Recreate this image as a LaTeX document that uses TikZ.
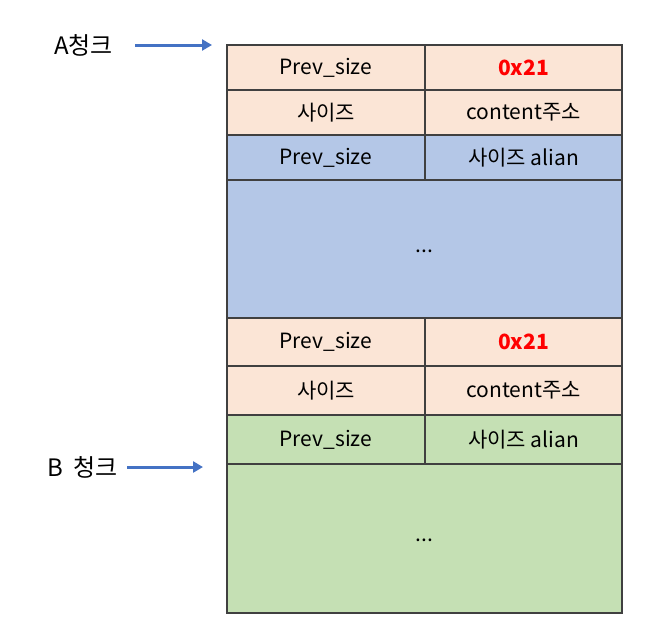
\documentclass[tikz,border=0pt]{standalone}
\usepackage{fontspec}
\setmainfont{Noto Sans CJK KR}
\usetikzlibrary{arrows.meta}
\definecolor{peach}{HTML}{FBE5D6}
\definecolor{blu}{HTML}{B4C7E7}
\definecolor{grn}{HTML}{C5E0B4}
\definecolor{bord}{HTML}{404040}
\definecolor{arrblue}{HTML}{4472C4}
\begin{document}
\begin{tikzpicture}[x=1pt,y=-1pt,
  cell/.style={draw=bord,line width=1.2pt,inner sep=0pt,outer sep=0pt,font=\fontsize{21}{24}\selectfont},
  lbl/.style={font=\fontsize{24}{27}\selectfont,inner sep=0pt},
  ptr/.style={-{Triangle[length=10pt,width=11pt]},draw=arrblue,line width=3pt}]
\useasboundingbox (0,0) rectangle (652,640);
% rows: 45,90,135,180,318,366,415,464,613 ; columns 227,425,622
\def\cellat#1#2#3#4#5#6{\node[cell,fill=#5,minimum width=#3,minimum height=#4,anchor=north west] (#1) at #2 {#6};}
\cellat{a1}{(227,45)}{198pt}{45pt}{peach}{Prev\_size}
\cellat{a2}{(425,45)}{197pt}{45pt}{peach}{\textcolor{red}{\bfseries 0x21}}
\cellat{a3}{(227,90)}{198pt}{45pt}{peach}{사이즈}
\cellat{a4}{(425,90)}{197pt}{45pt}{peach}{content주소}
\cellat{a5}{(227,135)}{198pt}{45pt}{blu}{Prev\_size}
\cellat{a6}{(425,135)}{197pt}{45pt}{blu}{사이즈 alian}
\cellat{a7}{(227,180)}{395pt}{138pt}{blu}{\smash{\raisebox{-3pt}{...}}}
\cellat{b1}{(227,318)}{198pt}{48pt}{peach}{Prev\_size}
\cellat{b2}{(425,318)}{197pt}{48pt}{peach}{\textcolor{red}{\bfseries 0x21}}
\cellat{b3}{(227,366)}{198pt}{49pt}{peach}{사이즈}
\cellat{b4}{(425,366)}{197pt}{49pt}{peach}{content주소}
\cellat{b5}{(227,415)}{198pt}{49pt}{grn}{Prev\_size}
\cellat{b6}{(425,415)}{197pt}{49pt}{grn}{사이즈 alian}
\cellat{b7}{(227,464)}{395pt}{149pt}{grn}{\smash{\raisebox{-3pt}{...}}}
\node[lbl,anchor=west] (la) at (54,45) {A청크};
\node[lbl,anchor=west] (lb) at (47,467) {B\hspace{0.45em}청크};
\coordinate (sa) at (135,45);
\coordinate (ta) at (212,45);
\coordinate (sb) at (127,467);
\coordinate (tb) at (203,467);
\draw[ptr] (sa) -- (ta);
\draw[ptr] (sb) -- (tb);
\end{tikzpicture}
\end{document}
